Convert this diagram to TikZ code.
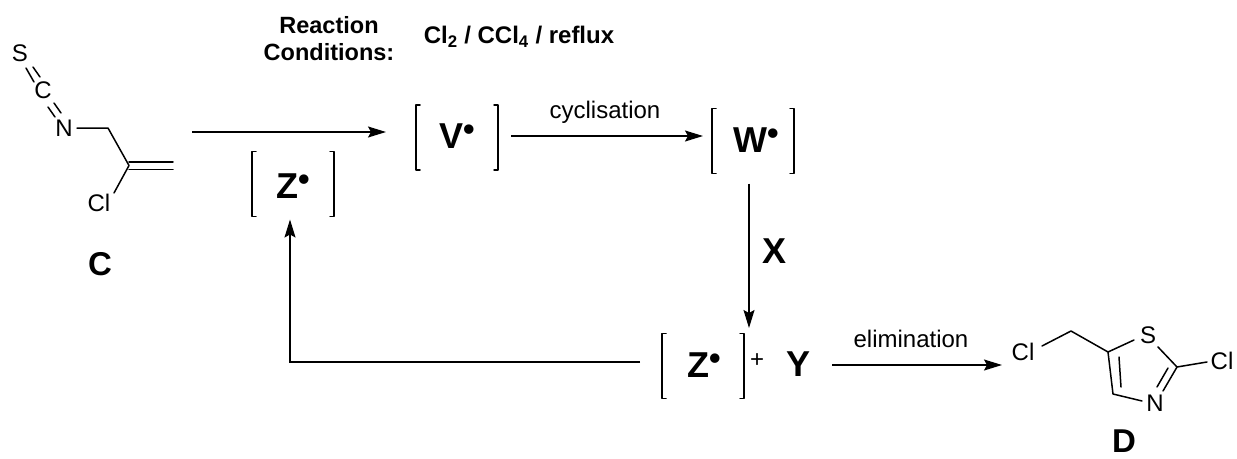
\documentclass[tikz,border=0pt]{standalone}
\usepackage{fontspec}
\setmainfont{Liberation Sans}
\usetikzlibrary{arrows.meta}
\newcommand{\fsz}[1]{\fontsize{#1}{#1}\selectfont}
\newcommand{\rad}{\raisebox{8pt}{\fsz{33}•}}
\tikzset{
 x=1pt,y=-1pt,
 bond/.style={line width=1.5pt,line cap=round,line join=round},
 arr/.style={line width=1.5pt,-{Stealth[length=18pt,width=11pt,inset=3pt]}},
 atom/.style={font=\fsz{24},inner sep=0pt},
 big/.style={font=\fsz{36}\bfseries,inner sep=0pt,anchor=base west},
 cmpd/.style={font=\fsz{33}\bfseries,inner sep=0pt,anchor=base},
 cond/.style={font=\fsz{23.5}\bfseries,inner sep=0pt},
 lab/.style={font=\fsz{24},inner sep=0pt},
 box/.style={minimum width=82pt,minimum height=65pt,inner sep=0pt,outer sep=0pt},
 brk/.style={line width=1.5pt,line cap=round,line join=round},
}
\newcommand{\brackets}[1]{%
 \draw[brk] ([xshift=4pt]#1.north west) -- (#1.north west) -- (#1.south west) -- ([xshift=4pt]#1.south west);
 \draw[brk] ([xshift=-4pt]#1.north east) -- (#1.north east) -- (#1.south east) -- ([xshift=-4pt]#1.south east);}
\begin{document}
\begin{tikzpicture}
\useasboundingbox (0,0) rectangle (1237,458);
% conditions
\node[cond] (re) at (329,25) {Reaction};
\node[cond] (co) at (329,52) {Conditions:};
\node[cond,font=\fsz{24}\bfseries] (cd) at (519,37) {Cl\textsubscript{2} / CCl\textsubscript{4} / reflux};
% compound C
\node[atom] (s1) at (20,53) {S};
\node[atom] (c1) at (43,90) {C};
\node[atom] (n1) at (64,128) {N};
\node[atom] (cl1) at (99,203) {Cl};
\coordinate (a1) at (108,128);
\coordinate (a2) at (129,165.5);
\coordinate (a3) at (173,162);
\coordinate (a4) at (173,169.5);
\draw[bond] (26,68) -- (34,82) (33,67) -- (40,77);
\draw[bond] (48,107) -- (55,117) (54,103) -- (61,113);
\draw[bond] ([xshift=13pt]n1.center) -- (a1) -- (a2) -- ([xshift=15pt,yshift=10pt]cl1.center);
\draw[bond] (129,162) -- (a3) (129,169.5) -- (a4);
\node[cmpd] (lc) at (100,275) {C};
% brackets
\node[box] (vb) at (457,137.5) {};
\node[box] (wb) at (753,141) {};
\node[box] (zb) at (293,184) {};
\node[box] (yb) at (703,366) {};
\brackets{vb}\brackets{wb}\brackets{zb}\brackets{yb}
\node[big] (vl) at (439,148) {V\rad};
\node[big] (wl) at (733,152) {W\rad};
\node[big] (zl) at (276,198) {Z\rad};
\node[big] (yl) at (687,377) {Z\rad};
\node[lab] (pl) at (757,361) {+};
\node[big,anchor=base] (y) at (798,376) {Y};
\node[big,anchor=base] (x) at (774,263) {X};
\node[lab] (cy) at (605,112) {cyclisation};
\node[lab] (el) at (911,339) {elimination};
% arrows
\coordinate (st) at (192,132);
\draw[arr] (st) -- ([xshift=-30pt,yshift=5.5pt]vb.west);
\draw[arr] ([xshift=13pt,yshift=1.5pt]vb.east) -- ([xshift=-9pt,yshift=5pt]wb.west);
\draw[arr] ([xshift=-4pt,yshift=-10pt]wb.south) -- ([xshift=46pt,yshift=38pt]yb.center);
\draw[arr] ([xshift=-22pt,yshift=4pt]yb.west) -- (290,362) -- ([xshift=-3pt,yshift=-3pt]zb.south);
\coordinate (en) at (1002,365);
\draw[arr] (y.east |- en) ++(22,0) -- (en);
% compound D
\node[atom] (cl2) at (1023,352) {Cl};
\node[atom] (s2) at (1148,335) {S};
\node[atom] (cl3) at (1222,361) {Cl};
\node[atom] (n2) at (1155,403) {N};
\coordinate (d1) at (1071,331);
\coordinate (d2) at (1108,352);
\coordinate (d3) at (1177,367);
\coordinate (d4) at (1113,394);
\draw[bond] ([xshift=19pt,yshift=6pt]cl2.center) -- (d1) -- (d2) -- ([xshift=-14pt,yshift=-5pt]s2.center);
\draw[bond] ([xshift=10pt,yshift=-12pt]s2.center) -- (d3) -- ([xshift=-15pt,yshift=-1pt]cl3.center);
\draw[bond] (d3) -- ([xshift=8pt,yshift=12pt]n2.center);
\draw[bond] (1168,368) -- (1157,387);
\draw[bond] ([xshift=-13pt,yshift=2pt]n2.center) -- (d4) -- (d2);
\draw[bond] (1119,357) -- (1121,387);
\node[cmpd] (ld) at (1124,452) {D};
\end{tikzpicture}
\end{document}
